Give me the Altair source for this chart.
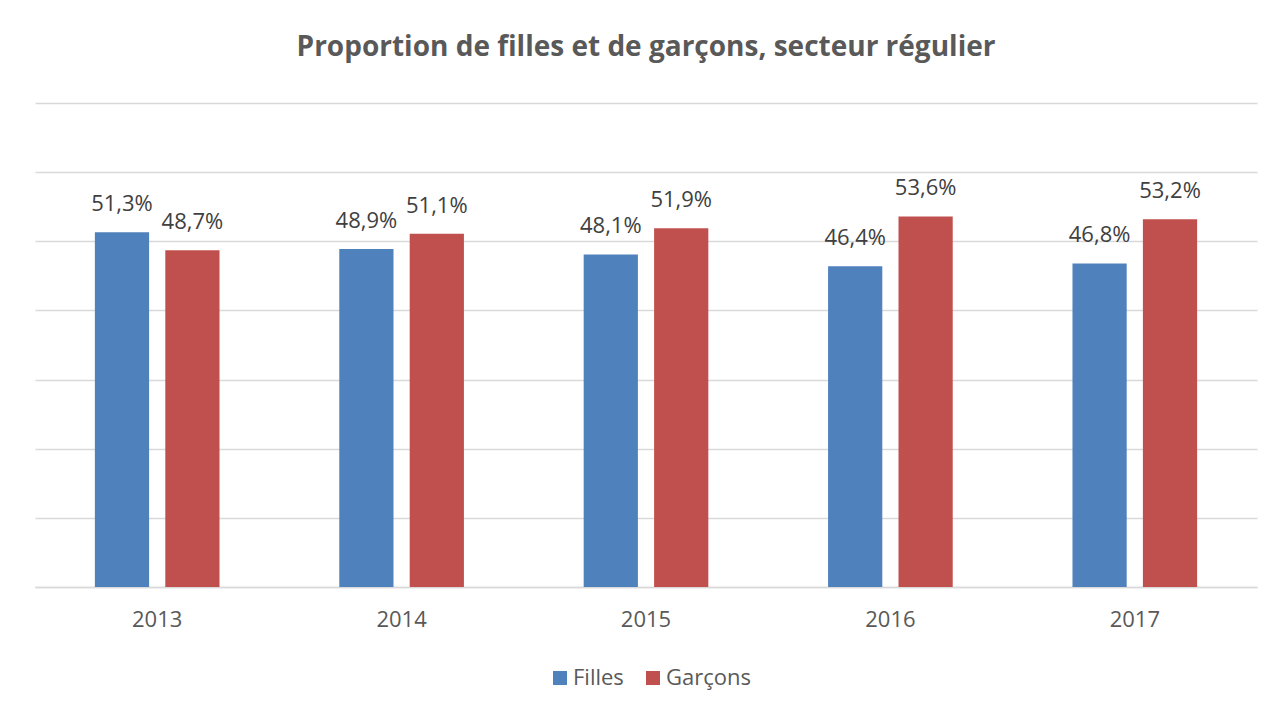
import altair as alt
import pandas as pd

years = ["2013", "2014", "2015", "2016", "2017"]
filles = [51.3, 48.9, 48.1, 46.4, 46.8]
garcons = [48.7, 51.1, 51.9, 53.6, 53.2]
series = ["Filles", "Garçons"]
colors = ["#4F81BD", "#C0504D"]

rows = []
for i, y in enumerate(years):
    for s, vals in zip(series, [filles, garcons]):
        v = vals[i]
        rows.append({"year": y, "serie": s, "value": v,
                     "label": f"{v:.1f}".replace(".", ",") + "%"})
df = pd.DataFrame(rows)

FONT = "Open Sans"
W, H = 1222, 484

x_enc = alt.X("year:N", sort=years, title=None,
              scale=alt.Scale(paddingInner=0.49, paddingOuter=0.245),
              axis=alt.Axis(labelFont=FONT, labelFontSize=22, labelColor="#595959",
                            labelAngle=0, labelBaseline="alphabetic", labelPadding=39,
                            ticks=False, domainColor="#d9d9d9", domainWidth=1.5,
                            grid=False))
xo_enc = alt.XOffset("serie:N", sort=series,
                     scale=alt.Scale(paddingInner=0.23, paddingOuter=0))
y_enc = alt.Y("value:Q", title=None,
              scale=alt.Scale(domain=[0, 70], nice=False),
              axis=alt.Axis(values=[0, 10, 20, 30, 40, 50, 60, 70], labels=False,
                            ticks=False, domain=False, grid=True,
                            gridColor="#d9d9d9", gridWidth=1.5))

bars = alt.Chart(df).mark_bar().encode(
    x=x_enc, xOffset=xo_enc, y=y_enc,
    color=alt.Color("serie:N", sort=series, title=None,
                    scale=alt.Scale(domain=series, range=colors),
                    legend=alt.Legend(orient="none", legendX=514, legendY=564,
                                      direction="horizontal", symbolType="square",
                                      symbolSize=196, symbolStrokeWidth=0,
                                      labelFont=FONT, labelFontSize=22,
                                      labelColor="#595959", labelOffset=2,
                                      columnPadding=18, padding=0)),
)

labels = alt.Chart(df).mark_text(font=FONT, fontSize=22, color="#404040",
                                 baseline="alphabetic", dy=-21).encode(
    x=x_enc, xOffset=xo_enc, y=y_enc,
    text="label:N",
)

chart = alt.layer(bars, labels).properties(
    width=W, height=H,
    background="white",
    autosize=alt.AutoSizeParams(type="none"),
    padding={"left": 27, "top": 95, "right": 23, "bottom": 118},
    title=alt.TitleParams("Proportion de filles et de garçons, secteur régulier",
                          font=FONT, fontSize=28, fontWeight="bold", color="#595959",
                          anchor="middle", frame="group", baseline="alphabetic",
                          offset=19),
).configure_view(stroke="transparent", strokeWidth=0)

chart.save("out.html", embed_options={"renderer": "svg", "actions": False})
